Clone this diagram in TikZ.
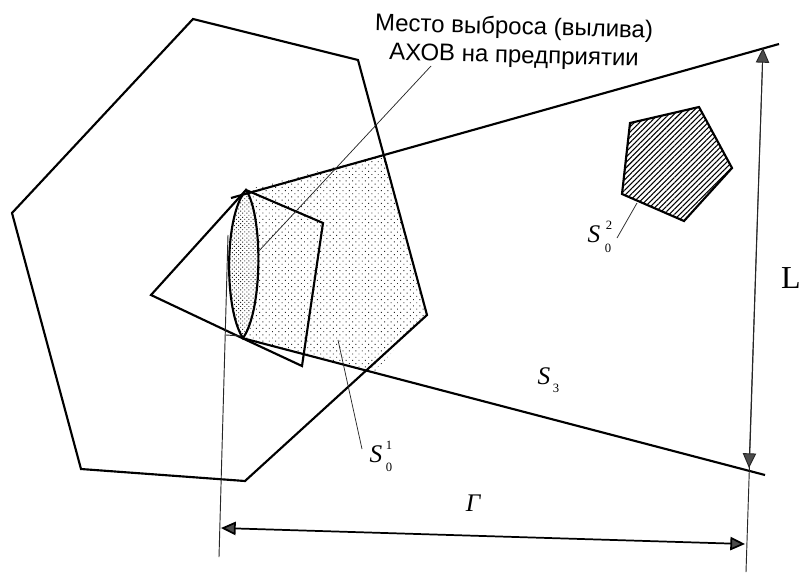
\documentclass[tikz,border=0pt]{standalone}
\usepackage{fontspec}
\setmainfont{Liberation Serif}
\newfontfamily\labelfont{Liberation Sans}
\usetikzlibrary{patterns,patterns.meta,arrows.meta,calc}
\tikzset{
  px/.style={x=0.75pt,y=-0.75pt},
  heavy/.style={draw=black,line width=1.6pt,line join=miter},
  thin leader/.style={draw=black!85,line width=0.55pt},
  dim/.style={draw=black!85,line width=0.7pt},
  dimarrow/.style={draw=black,line width=1.3pt,{Triangle[length=11pt,width=10pt,fill=black!70]}-{Triangle[length=11pt,width=10pt,fill=black!70]}},
  vdimarrow/.style={draw=black!85,line width=0.7pt,{Triangle[length=11pt,width=10pt,fill=black!70]}-{Triangle[length=11pt,width=10pt,fill=black!70]}},
  stipple/.style={pattern={Dots[radius=0.5pt,distance=3.4pt,angle=45]},pattern color=black!85},
  dense/.style={pattern={Dots[radius=0.5pt,distance=2.2pt,angle=45]},pattern color=black!85},
  hatch/.style={pattern={Lines[angle=45,distance=2.8pt,line width=0.8pt]},pattern color=black},
  caption/.style={font=\labelfont\fontsize{18pt}{20pt}\selectfont,inner sep=0pt,anchor=center,rotate=-1.5},
  sym/.style={font=\fontsize{19pt}{21pt}\selectfont\itshape,inner sep=0pt},
  idx/.style={font=\fontsize{9.5pt}{10pt}\selectfont,inner sep=0pt},
}
\begin{document}
\begin{tikzpicture}[px]
\path[use as bounding box,fill=white] (0,0) rectangle (803,572);
% key points
\coordinate (o1) at (12,213); \coordinate (o2) at (193,19); \coordinate (o3) at (358,60);
\coordinate (o4) at (427,315); \coordinate (o5) at (245,481); \coordinate (o6) at (81,469);
\coordinate (k1) at (151,295); \coordinate (k2) at (246,190); \coordinate (k3) at (323,223);
\coordinate (k4) at (302,366); \coordinate (k5) at (242,338);
\coordinate (bu0) at (231,198); \coordinate (bu1) at (779,44);
\coordinate (bl0) at (242,338); \coordinate (bl1) at (765,475);
% stippled area
\path[stipple] (246,190) -- (385,154) -- (o4) -- (373,373) -- (bl0) -- (258,264) -- cycle;
\fill[white] (246,192) .. controls (262,215) and (262,310) .. (243,337) .. controls (224,310) and (224,215) .. (246,192) -- cycle;
\path[dense] (246,190) .. controls (263,215) and (263,310) .. (243,338) .. controls (224,310) and (224,215) .. (246,190) -- cycle;
% hatched pentagon
\path[hatch] (630,123) -- (699,107) -- (732,168) -- (684,221) -- (622,194) -- cycle;
\draw[heavy] (630,123) -- (699,107) -- (732,168) -- (684,221) -- (622,194) -- cycle;
% outlines
\draw[heavy] (o1) -- (o2) -- (o3) -- (o4) -- (o5) -- (o6) -- cycle;
\draw[heavy] (k5) -- (k1) -- (k2) -- (k3) -- (k4) -- cycle;
\draw[heavy] (bu0) -- (bu1);
\draw[heavy] (bl0) -- (bl1);
\draw[heavy] (246,190) .. controls (263,215) and (263,310) .. (243,338) .. controls (224,310) and (224,215) .. (246,190) -- cycle;
% leaders
\draw[thin leader] (258,252) -- (431,66);
\node[caption] (cap1) at (514,28) {Место выброса (вылива)};
\node[caption] (cap2) at (514,57) {АХОВ на предприятии};
\node[sym] (s01) at (376,454) {S};
\node[idx] (s01a) at (389,445) {1};
\node[idx] (s01b) at (389,467) {0};
\draw[thin leader] (338,340) -- (362,449);
\node[sym] (s02) at (594,234) {S};
\node[idx] (s02a) at (609,225) {2};
\node[idx] (s02b) at (608,248) {0};
\draw[thin leader] (637,203) -- (617,238);
\node[sym] (s3) at (544,376) {S};
\node[idx] (s3a) at (556,388) {3};
\node[sym] (gamma) at (473,503) {Г};
\node[font=\fontsize{24pt}{26pt}\selectfont,inner sep=0pt] (L) at (791,278) {L};
% dimension lines
\draw[dim] (228,235) -- (219,557);
\draw[dim] (226,335) -- (241,336);
\draw[dim] (763,48) -- (746,572);
\draw[vdimarrow] (763,48) -- (749,468);
\draw[dimarrow] (221,528) -- (745,544);
\end{tikzpicture}
\end{document}
